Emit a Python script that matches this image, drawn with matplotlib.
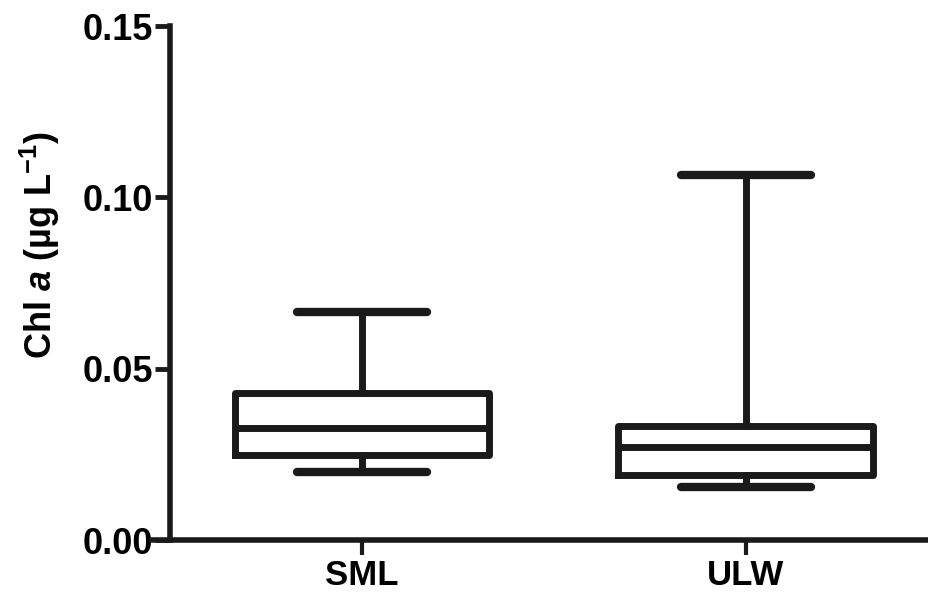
import matplotlib.pyplot as plt

plt.rcParams['font.family'] = ['Liberation Sans', 'DejaVu Sans']
plt.rcParams['font.weight'] = 'bold'
plt.rcParams['mathtext.fontset'] = 'custom'
plt.rcParams['mathtext.rm'] = 'Liberation Sans:bold'
plt.rcParams['mathtext.it'] = 'Liberation Sans:italic:bold'
plt.rcParams['mathtext.bf'] = 'Liberation Sans:bold'

# data
groups = ['SML', 'ULW']
whis_low = [0.0197, 0.0156]
q1 = [0.0248, 0.0189]
median = [0.0327, 0.0271]
q3 = [0.0430, 0.0333]
whis_high = [0.0666, 0.1064]

yticks = [0.00, 0.05, 0.10, 0.15]
ytick_labels = ['0.00', '0.05', '0.10', '0.15']

stats = []
for i in range(len(groups)):
    stats.append({'label': groups[i], 'whislo': whis_low[i], 'q1': q1[i],
                  'med': median[i], 'q3': q3[i], 'whishi': whis_high[i],
                  'fliers': []})

ink = '#1a1a1a'
lw = 5.0

fig = plt.figure(figsize=(9.29, 5.96), dpi=100)
ax = fig.add_axes([152 / 929, 56 / 596, 1 - 152 / 929, (540 - 26) / 596])

ax.bxp(stats, positions=[1, 2], widths=0.664, capwidths=0.34, showfliers=False,
       patch_artist=False,
       boxprops=dict(color=ink, linewidth=lw, solid_joinstyle='round'),
       medianprops=dict(color=ink, linewidth=lw, solid_capstyle='butt'),
       whiskerprops=dict(color=ink, linewidth=lw),
       capprops=dict(color=ink, linewidth=lw + 1, solid_capstyle='round'))

ax.set_xlim(0.453, 2.477)
ax.set_ylim(0, 0.15)

ax.spines['top'].set_visible(False)
ax.spines['right'].set_visible(False)
ax.spines['left'].set_position(('data', 0.5))
ax.spines['left'].set_linewidth(4)
ax.spines['bottom'].set_linewidth(4)
ax.spines['left'].set_color(ink)
ax.spines['bottom'].set_color(ink)

ax.set_yticks(yticks)
ax.set_yticklabels(ytick_labels)
ax.set_xticks([1, 2])
ax.set_xticklabels(groups)
ax.tick_params(axis='y', length=11, width=3.5, color=ink, labelsize=26, pad=1)
ax.tick_params(axis='x', length=11, width=3, color=ink, labelsize=25, pad=3)

ax.set_ylabel(r'Chl $\mathit{a}$ (µg L$^{-1}$)', fontsize=26, fontweight='bold')
ax.yaxis.set_label_coords(-0.116, 0.574)

fig.savefig('out.png', dpi=100)
